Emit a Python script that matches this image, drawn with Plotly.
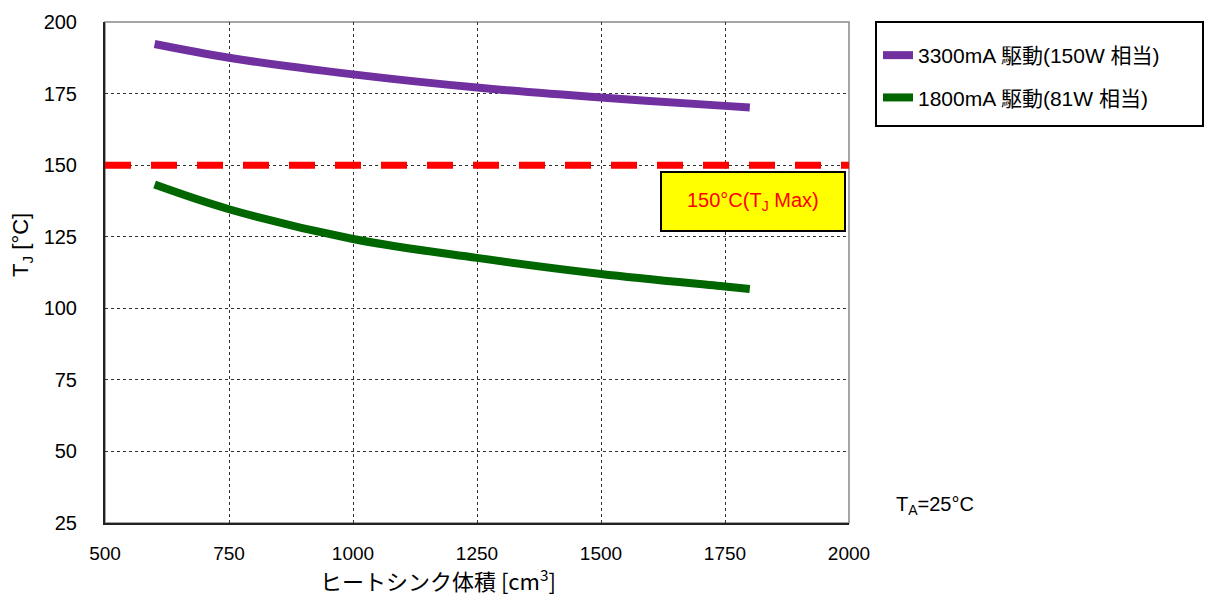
import plotly.graph_objects as go

volume = [600, 750, 1000, 1250, 1500, 1750, 1800]
tj_3300 = [192.3, 187.5, 181.7, 177.1, 173.6, 170.7, 170.1]
tj_1800 = [143.2, 134.6, 124.2, 117.6, 112.0, 107.6, 106.7]
names = ["3300mA 駆動(150W 相当)", "1800mA 駆動(81W 相当)"]
colors = ["#7030A0", "#006600"]
tjmax = 150
x_ticks = [500, 750, 1000, 1250, 1500, 1750, 2000]
y_ticks = [25, 50, 75, 100, 125, 150, 175, 200]

font = "Liberation Sans, Arial, Noto Sans CJK JP, sans-serif"

W, H = 1209, 597
L, R, T, B = 105, W - 849, 22, H - 523
PW, PH = 849 - 105, 523 - 22


def px(xp):
    return (xp - 105) / PW


def py(yp):
    return (523 - yp) / PH


fig = go.Figure()
fig.add_trace(go.Scatter(x=[500, 2000], y=[tjmax, tjmax], mode="lines",
                         line=dict(color="#FF0000", width=7, dash="26px,20px"),
                         showlegend=False, hoverinfo="skip"))
for i, (vals, nm, col) in enumerate(zip([tj_3300, tj_1800], names, colors)):
    fig.add_trace(go.Scatter(x=volume, y=vals, mode="lines", name=nm, legendgroup=f"g{i}",
                             line=dict(color=col, width=8, shape="spline", smoothing=1.0)))

fig.update_layout(
    width=W, height=H,
    margin=dict(l=L, r=R, t=T, b=B, autoexpand=False),
    plot_bgcolor="white", paper_bgcolor="white",
    font=dict(family=font, size=20, color="black"),
    showlegend=True,
    legend=dict(x=px(878), y=py(35), xanchor="left", yanchor="top",
                bgcolor="rgba(0,0,0,0)", borderwidth=0,
                font=dict(size=21, family=font), tracegroupgap=12,
                itemwidth=30, traceorder="grouped"),
    xaxis=dict(range=[500, 2000], tickvals=x_ticks, ticks="", showgrid=True,
               gridcolor="#333", griddash="dot", gridwidth=1,
               showline=True, linecolor="#222", linewidth=2, mirror=False,
               ticklabelstandoff=12, automargin=False,
               tickfont=dict(size=19),
               zeroline=False),
    yaxis=dict(range=[25, 200], tickvals=y_ticks, ticks="", showgrid=True,
               gridcolor="#333", griddash="dot", gridwidth=1,
               showline=True, linecolor="#222", linewidth=2,
               ticklabelstandoff=22, automargin=False,
               tickfont=dict(size=20),
               zeroline=False),
    shapes=[
        dict(type="rect", xref="paper", yref="paper", x0=0, x1=1, y0=0, y1=1,
             line=dict(color="#888", width=1.5), layer="below"),
        dict(type="rect", xref="paper", yref="paper",
             x0=px(876), x1=px(1203), y0=py(126), y1=py(22),
             line=dict(color="black", width=2), fillcolor="rgba(0,0,0,0)"),
        dict(type="rect", xref="paper", yref="paper",
             x0=px(661), x1=px(845), y0=py(231), y1=py(172),
             line=dict(color="black", width=2), fillcolor="#FFFF00", layer="above"),
    ],
    annotations=[
        dict(xref="paper", yref="paper", x=px(753), y=py(201),
             text="150°C(T<sub>J</sub> Max)", showarrow=False,
             font=dict(color="#FF0000", size=20), xanchor="center", yanchor="middle"),
        dict(xref="paper", yref="paper", x=px(894), y=py(505),
             text="T<sub>A</sub>=25°C", showarrow=False,
             font=dict(color="black", size=20), xanchor="left", yanchor="middle"),
        dict(xref="paper", yref="paper", x=px(438), y=py(579),
             text="ヒートシンク体積 [cm<sup>3</sup>]", showarrow=False,
             font=dict(color="black", size=22, family="Noto Sans CJK JP, sans-serif"),
             xanchor="center", yanchor="middle"),
        dict(xref="paper", yref="paper", x=px(22), y=py(245),
             text="T<sub>J</sub> [°C]", showarrow=False, textangle=-90,
             font=dict(color="black", size=22),
             xanchor="center", yanchor="middle"),
    ],
)

fig.write_html("out.html", config={"displayModeBar": False},
               post_script="document.body.style.margin='0px';document.body.style.overflow='hidden';")
